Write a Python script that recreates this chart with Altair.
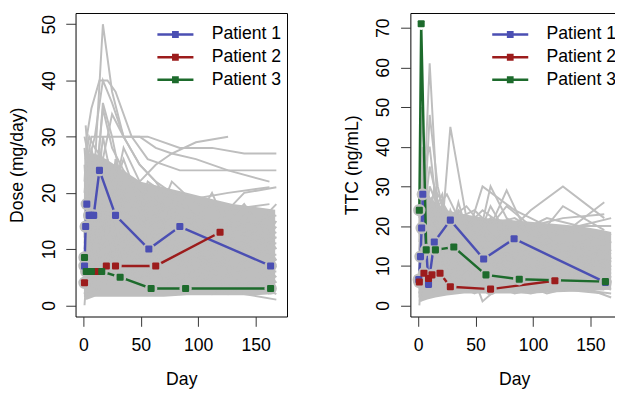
import altair as alt
import numpy as np
import pandas as pd

# ---------------- data ----------------
DAY_TICKS = [0, 50, 100, 150]
DOSE_TICKS = [0, 10, 20, 30, 40, 50]
TTC_TICKS = [0, 10, 20, 30, 40, 50, 60, 70]

PATIENTS = ["Patient 1", "Patient 2", "Patient 3"]
COLORS = ["#4B4FB3", "#9C1C1C", "#1D6B2C"]
GRAY = "#BEBEBE"

DOSE_DAYS = {
    "Patient 1": [1, 2, 3, 5, 7, 9, 14, 28, 57, 84, 163],
    "Patient 2": [1, 4, 8, 12, 20, 28, 63, 119],
    "Patient 3": [1, 2.5, 7, 16, 32, 59, 89, 163],
}
DOSE_VALS = {
    "Patient 1": [7, 14, 18, 16, 16, 16, 24, 16, 10, 14, 7],
    "Patient 2": [4, 6, 6, 6, 7, 7, 7, 13],
    "Patient 3": [8.5, 6, 6, 6, 5, 3, 3, 3],
}
TTC_DAYS = {
    "Patient 1": [0.5, 2, 3, 4, 9, 14, 28, 57, 83.5, 163],
    "Patient 2": [1, 5, 9, 12, 19, 28, 63, 119],
    "Patient 3": [1, 2.6, 7, 15, 31, 59, 88, 163],
}
TTC_VALS = {
    "Patient 1": [6.5, 12.3, 19.5, 28, 5.3, 16, 21.5, 11.7, 16.8, 5.8],
    "Patient 2": [5.9, 8.1, 6.8, 7.7, 8.1, 4.7, 4.1, 6.2],
    "Patient 3": [24, 71, 14, 14, 14.7, 7.7, 6.6, 6],
}

# dense core of the grey spaghetti (envelope)
DOSE_CORE_DAYS = [0.5, 3, 10, 20, 35, 50, 70, 90, 110, 130, 150, 167]
DOSE_CORE_LOW = [1.5, 1, 1.5, 1.5, 1.5, 1.5, 1.5, 1.8, 1.8, 1.8, 1.8, 2]
DOSE_CORE_HIGH = [22, 27, 27, 26, 24, 22, 21, 20, 19, 18, 17.5, 17]
TTC_CORE_DAYS = [0.5, 3, 8, 15, 25, 40, 60, 80, 100, 120, 140, 160, 168]
TTC_CORE_LOW = [1, 1, 1.5, 2, 2.5, 3, 3, 3, 3, 3.3, 3.5, 3.8, 4]
TTC_CORE_HIGH = [26, 30, 28, 26, 24, 23, 22, 21.5, 21, 20.5, 20, 19, 18.5]

GRID_A = [1, 3, 7, 14, 21, 28, 42, 56, 84, 112, 140, 168]
GRID_B = [2, 5, 10, 17, 25, 35, 49, 63, 77, 98, 126, 162]

DOSE_GRAY_A = [
    [10, 15, 20, 25, 22, 20, 18, 15, 12, 10, 10, 8],
    [5, 8, 12, 15, 15, 12, 10, 10, 8, 8, 6, 6],
    [20, 25, 30, 30, 30, 30, 30, 30, 28, 28, 27, 27],
    [3, 5, 6, 8, 10, 8, 6, 5, 4, 4, 3, 3],
    [8, 12, 18, 20, 18, 16, 14, 12, 12, 10, 9, 9],
    [30, 28, 25, 22, 20, 18, 16, 15, 14, 14, 13, 12],
    [2, 4, 10, 12, 6, 8, 14, 9, 5, 7, 11, 4],
    [12, 20, 16, 10, 14, 22, 12, 18, 10, 15, 8, 14],
    [6, 10, 8, 14, 18, 12, 16, 8, 12, 6, 10, 5],
    [25, 18, 28, 20, 26, 16, 22, 14, 20, 12, 18, 10],
    [4, 2, 6, 3, 8, 4, 7, 3, 6, 2, 5, 2],
    [15, 10, 22, 14, 18, 10, 14, 20, 16, 12, 14, 16],
    [0, 6, 3, 9, 5, 11, 6, 10, 4, 9, 3, 7],
    [18, 24, 12, 28, 16, 24, 10, 20, 8, 18, 12, 18],
    [9, 5, 14, 7, 12, 5, 9, 13, 7, 11, 13, 12],
    [22, 30, 35, 40, 40, 38, 30, 26, 24, 24, 24, 24],
    [7, 14, 9, 18, 11, 7, 17, 6, 15, 5, 16, 8],
    [13, 8, 17, 10, 20, 14, 8, 16, 10, 20, 7, 15],
    [28, 22, 18, 24, 14, 26, 12, 22, 18, 14, 20, 21],
    [3, 10, 5, 12, 4, 6, 3, 8, 2, 6, 2, 1],
    [16, 12, 8, 11, 15, 9, 12, 7, 10, 8, 12, 11],
    [11, 18, 22, 16, 12, 15, 11, 14, 9, 13, 10, 13],
]
DOSE_GRAY_B = [
    [12, 22, 25, 50, 38, 30, 25, 22, 18, 16, 14, 12],
    [20, 26, 30, 40, 36, 30, 30, 28, 27, 26, 24, 22],
    [6, 9, 13, 11, 16, 10, 8, 12, 9, 7, 10, 6],
    [16, 12, 20, 15, 10, 18, 12, 9, 14, 10, 6, 11],
    [10, 16, 8, 20, 12, 14, 20, 10, 16, 12, 9, 13],
    [4, 7, 10, 5, 9, 6, 4, 7, 3, 5, 4, 3],
    [25, 20, 15, 30, 22, 18, 14, 16, 12, 10, 14, 9],
    [8, 3, 12, 6, 14, 3, 10, 4, 12, 6, 2, 6],
    [32, 24, 20, 35, 28, 24, 20, 18, 16, 15, 15, 14],
    [14, 18, 24, 16, 20, 26, 18, 15, 22, 18, 17, 18],
    [2, 12, 4, 16, 7, 13, 5, 11, 8, 13, 10, 9],
    [18, 6, 16, 8, 24, 12, 16, 6, 14, 8, 12, 4],
    [5, 15, 20, 12, 8, 10, 16, 20, 10, 14, 8, 17],
    [26, 30, 28, 26, 34, 30, 25, 22, 20, 19, 20, 21],
    [1, 5, 2, 7, 3, 9, 4, 2, 5, 3, 7, 2],
    [11, 7, 15, 9, 17, 8, 13, 10, 18, 11, 15, 10],
    [20, 14, 10, 22, 18, 28, 22, 25, 27, 29, 30, None],
    [9, 12, 6, 10, 13, 7, 12, 8, 6, 9, 5, 8],
    [15, 25, 18, 36, 30, 20, 16, 13, 11, 12, 9, 11],
    [7, 4, 9, 5, 7, 11, 7, 14, 11, 4, 12, 14],
    [13, 9, 5, 8, 6, 12, 9, 6, 8, 10, 6, 7],
    [24, 16, 26, 19, 15, 21, 15, 17, 13, 16, 13, 16],
]

TTC_GRAY_A = [
    [10, 18, 25, 15, 20, 12, 16, 10, 14, 12, 10, 9],
    [5, 8, 12, 9, 14, 8, 10, 7, 9, 6, 8, 6],
    [20, 50, 30, 22, 25, 18, 20, 16, 18, 14, 15, 13],
    [3, 6, 4, 8, 5, 7, 4, 6, 3, 5, 4, 3],
    [14, 24, 18, 12, 22, 15, 12, 18, 11, 16, 12, 14],
    [8, 40, 20, 14, 18, 12, 15, 11, 10, 9, 11, 8],
    [2, 12, 7, 16, 9, 13, 6, 11, 8, 12, 6, 10],
    [18, 26, 14, 30, 20, 45, 22, 18, 16, 14, 13, 12],
    [6, 4, 10, 6, 12, 5, 9, 4, 7, 4, 6, 4],
    [25, 15, 30, 20, 16, 24, 14, 20, 12, 18, 10, 16],
    [12, 9, 16, 22, 13, 10, 18, 12, 16, 10, 14, 11],
    [0, 8, 5, 11, 7, 9, 12, 1, 8, 6, 9, 5],
    [16, 30, 22, 18, 26, 20, 17, 30, 24, 20, 18, 16],
    [9, 20, 12, 25, 10, 16, 8, 14, 17, 9, 13, 7],
    [4, 14, 8, 5, 10, 6, 13, 8, 5, 11, 7, 12],
    [22, 35, 25, 28, 18, 22, 25, 20, 22, 17, 20, 22],
    [7, 10, 6, 13, 15, 8, 10, 16, 12, 8, 16, 18],
    [13, 22, 30, 20, 14, 18, 13, 10, 15, 13, 11, 14],
    [28, 20, 18, 24, 28, 14, 20, 24, 18, 22, 20, 20],
    [3, 7, 9, 4, 6, 10, 5, 9, 6, 3, 5, 2],
    [11, 16, 10, 14, 8, 11, 14, 9, 13, 11, 9, 10],
    [19, 12, 24, 10, 18, 13, 9, 15, 10, 15, 12, 11],
]
TTC_GRAY_B = [
    [15, 28, 61, 24, 18, 22, 16, 14, 12, 10, 11, 9],
    [10, 20, 48, 30, 20, 15, 12, 30, 22, 18, 14, 12],
    [6, 12, 9, 14, 8, 12, 10, 7, 10, 8, 6, 7],
    [20, 14, 26, 16, 22, 13, 18, 20, 29, 16, 15, 17],
    [8, 18, 12, 20, 14, 9, 14, 10, 12, 14, 9, 12],
    [4, 6, 10, 8, 5, 8, 6, 4, 7, 5, 4, 3],
    [25, 40, 20, 28, 24, 18, 22, 16, 20, 15, 25, 19],
    [11, 8, 14, 10, 16, 11, 8, 13, 9, 12, 10, 8],
    [30, 22, 35, 26, 20, 24, 18, 22, 16, 20, 18, 26],
    [14, 10, 18, 12, 10, 16, 20, 12, 14, 10, 12, 10],
    [2, 9, 5, 12, 6, 10, 4, 8, 11, 7, 10, 6],
    [18, 26, 14, 22, 12, 20, 15, 25, 18, 24, 30, 22],
    [5, 16, 20, 9, 12, 7, 11, 6, 9, 6, 8, 5],
    [22, 18, 30, 25, 28, 22, 24, 20, 25, 20, 22, 23],
    [9, 13, 7, 15, 10, 14, 9, 15, 8, 13, 7, 13],
    [12, 30, 24, 16, 20, 12, 16, 11, 15, 12, 14, 15],
    [1, 4, 3, 6, 4, 5, 3, 5, 4, 3, 5, 4],
    [16, 12, 22, 18, 14, 26, 12, 18, 14, 16, 12, 18],
    [7, 11, 15, 8, 17, 9, 13, 9, 11, 9, 11, 9],
    [20, 35, 40, 22, 16, 20, 18, 14, 17, 14, 16, 14],
    [13, 24, 17, 11, 15, 18, 10, 13, 16, 12, 16, 13],
    [3, 18, 11, 7, 9, 5, 8, 10, 6, 8, 5, 6],
]

# ---------------- frames ----------------
def gray_frame(groups):
    rows = []
    for gi, (grid, lines) in enumerate(groups):
        for li, vals in enumerate(lines):
            for d, v in zip(grid, vals):
                if v is not None:
                    rows.append({"id": f"{gi}-{li}", "day": d, "value": v})
    return pd.DataFrame(rows)


def core_frame(days, low, high):
    return pd.DataFrame({"day": days, "value": low, "value2": high})


def patient_frame(days, vals, core_days, core_high):
    rows = []
    for name, col in zip(PATIENTS, COLORS):
        for d, v in zip(days[name], vals[name]):
            inside = v <= np.interp(d, core_days, core_high) + 2
            rows.append({"patient": name, "hex": col, "day": d, "value": v,
                         "halo": GRAY if inside else "white"})
    return pd.DataFrame(rows)


FONT = "Liberation Sans"
FS = 18
LEG_PATH = "M-1.6,0H1.6M-0.3,-0.2H0.3M-0.3,0H0.3M-0.3,0.2H0.3"
PT_PATH = ("M-0.7,-1H0.7Q1,-1 1,-0.7V0.7Q1,1 0.7,1H-0.7Q-1,1 -1,0.7V-0.7"
           "Q-1,-1 -0.7,-1Z")


def panel(gray, core, pat, xdomain, width, ydomain, yticks, ytitle):
    x = alt.X("day:Q", scale=alt.Scale(domain=xdomain, nice=False, zero=False),
              axis=alt.Axis(values=DAY_TICKS, title="Day", grid=False, domain=False,
                            tickSize=10, tickColor="#333333", labelFlush=False,
                            labelPadding=11, titlePadding=16, format="d"))
    y = alt.Y("value:Q", scale=alt.Scale(domain=ydomain, nice=False, zero=False),
              axis=alt.Axis(values=yticks, title=ytitle, grid=False, domain=False,
                            tickSize=10, tickColor="#333333", labelAngle=270,
                            labelAlign="center", labelBaseline="alphabetic",
                            labelPadding=12, titlePadding=14, format="d"))
    a = alt.Chart(core).mark_area(color=GRAY, opacity=1, clip=True).encode(
        x=x, y=y, y2="value2:Q")
    g = alt.Chart(gray).mark_line(color=GRAY, strokeWidth=2, clip=True).encode(
        x=x, y=y, detail="id:N")
    l = alt.Chart(pat).mark_line(strokeWidth=2.5).encode(
        x=x, y=y,
        color=alt.Color("patient:N",
                        scale=alt.Scale(domain=PATIENTS, range=COLORS),
                        legend=alt.Legend(title=None, orient="none", legendX=89,
                                          legendY=9, symbolType=LEG_PATH,
                                          symbolSize=529, symbolStrokeWidth=2.5,
                                          labelFontSize=FS, labelFont=FONT,
                                          labelOffset=24, rowPadding=1.1,
                                          padding=0, labelColor="black")))
    h = alt.Chart(pat).mark_point(filled=True, opacity=1, shape="circle",
                                  size=160).encode(
        x=x, y=y, color=alt.Color("halo:N", scale=None))
    p = alt.Chart(pat).mark_point(filled=True, opacity=1, shape=PT_PATH,
                                  size=52).encode(
        x=x, y=y, color=alt.Color("hex:N", scale=None))
    return alt.layer(a, g, l, h, p).properties(width=width, height=310)


left = panel(gray_frame([(GRID_A, DOSE_GRAY_A), (GRID_B, DOSE_GRAY_B)]),
             core_frame(DOSE_CORE_DAYS, DOSE_CORE_LOW, DOSE_CORE_HIGH),
             patient_frame(DOSE_DAYS, DOSE_VALS, DOSE_CORE_DAYS, DOSE_CORE_HIGH),
             [-6.8, 177.3], 216, [-2, 52], DOSE_TICKS, "Dose (mg/day)")
# the right panel runs past the edge of the picture: its right border is cut off
right = panel(gray_frame([(GRID_A, TTC_GRAY_A), (GRID_B, TTC_GRAY_B)]),
              core_frame(TTC_CORE_DAYS, TTC_CORE_LOW, TTC_CORE_HIGH),
              patient_frame(TTC_DAYS, TTC_VALS, TTC_CORE_DAYS, TTC_CORE_HIGH),
              [-6.8, 173.9], 212, [-2.8, 73.7], TTC_TICKS, "TTC (ng/mL)")

chart = alt.hconcat(left, right, spacing=56).resolve_scale(
    color="independent").resolve_legend(color="independent").properties(
    padding={"left": 0, "top": 0, "right": -4, "bottom": 0}
).configure(font=FONT).configure_view(stroke="black", strokeWidth=1).configure_axis(
    labelFontSize=FS, titleFontSize=FS, labelFont=FONT, titleFont=FONT,
    labelColor="black", titleColor="black", titleFontWeight="normal")

chart.save("out.html", embed_options={"renderer": "svg", "actions": False})
